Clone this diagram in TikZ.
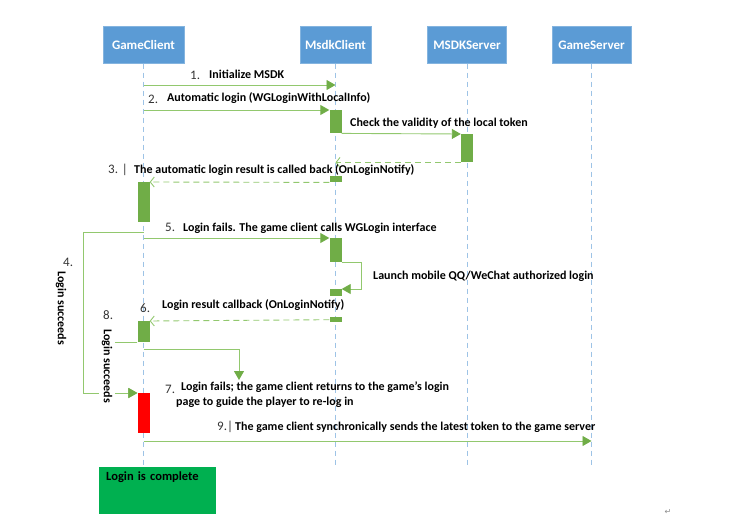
\documentclass[tikz,border=0pt]{standalone}
\usepackage{fontspec}
\setmainfont{Carlito}
\newfontfamily\symfont{DejaVu Sans}
\usetikzlibrary{arrows.meta,positioning}
\definecolor{hdrblue}{RGB}{91,155,213}
\definecolor{lifeblue}{RGB}{157,195,230}
\definecolor{bargreen}{RGB}{112,173,71}
\definecolor{linegreen}{RGB}{146,200,110}
\definecolor{donegreen}{RGB}{0,176,80}
\tikzset
{
    actor/.style    = {rectangle, fill=hdrblue, draw=hdrblue!75!white, text=white, font=\bfseries\fontsize{13}{15}\selectfont, minimum height=37pt, inner sep=2pt},
    lifeline/.style = {draw=lifeblue, dash pattern=on 5pt off 4pt, line width=0.8pt},
    actbar/.style   = {rectangle, fill=bargreen, minimum width=12pt, inner sep=0pt, anchor=north},
    msg/.style      = {draw=linegreen, line width=0.9pt, -{Triangle[length=9pt,width=10pt,color=bargreen]}},
    reply/.style    = {draw=linegreen, line width=0.9pt, dash pattern=on 6pt off 4pt, -{Straight Barb[length=4pt,width=10pt]}},
    msgtext/.style  = {anchor=west, inner sep=0pt, font=\bfseries\fontsize{12}{14.5}\selectfont},
    stepnum/.style  = {anchor=west, inner sep=0pt, text=black!80, font=\fontsize{13}{15}\selectfont},
    sidetext/.style = {rotate=-90, fill=white, inner xsep=1pt, inner ysep=3pt, font=\bfseries\fontsize{12}{14}\selectfont},
    donebox/.style  = {anchor=north west, fill=donegreen, text width=103pt, align=left, inner xsep=7pt, inner ysep=4pt, text height=9pt, text depth=30pt, font=\bfseries\fontsize{12.5}{14}\selectfont}
}

\begin{document}
\begin{tikzpicture}[x=1pt, y=-1pt]
    \useasboundingbox (0,0) rectangle (749,527);
    \node [actor, minimum width=81pt] (gc) at (143.5,45) {GameClient};
    \node [actor, minimum width=71pt] (mc) at (335.5,45) {MsdkClient};
    \node [actor, minimum width=79pt] (ms) at (467,45) {MSDKServer};
    \node [actor, minimum width=79pt] (gs) at (591.5,45) {GameServer};
    \coordinate (bottom) at (0,468);
    \draw [lifeline] (gc.south) -- (gc |- bottom);
    \draw [lifeline] (mc.south) -- (mc |- bottom);
    \draw [lifeline] (ms.south) -- (ms |- bottom);
    \draw [lifeline] (gs.south) -- (gs |- bottom);

    \node [actbar, minimum height=23pt] (b1) at (mc |- 0,110) {};
    \node [actbar, minimum height=28pt] (b2) at (ms |- 0,134) {};
    \node [actbar, minimum height=6pt] (b3) at (mc |- 0,176) {};
    \node [actbar, minimum height=40pt] (b4) at (gc |- 0,182) {};
    \node [actbar, minimum height=24pt] (b5) at (mc |- 0,238) {};
    \node [actbar, minimum height=7pt] (b6) at (mc |- 0,289) {};
    \node [actbar, minimum height=5pt] (b7) at (mc |- 0,317) {};
    \node [actbar, minimum height=21pt] (b8) at (gc |- 0,321) {};
    \node [actbar, minimum height=40pt, fill=red] (b9) at (gc |- 0,393) {};
    \coordinate (c7) at (239,380);

    \draw [msg] (gc |- 0,85) -- (mc |- 0,85);
    \draw [msg] (gc |- b1.north) -- (b1.north west);
    \draw [msg] (b1.south east) -- (b2.north west);
    \draw [reply] (b2.south west) -- (mc |- b2.south);
    \draw [reply] (b3.south west) -- (b4.north east);
    \draw [msg] (gc |- b5.north) -- (b5.north west);
    \draw [msg] (b5.south east) -- ++(20,0) |- (b6.north east);
    \draw [reply] (b7.west) -- (b8.north east);
    \draw [msg] (gc |- 0,232) -- ++(-60,0) |- (b9.north west);
    \draw [msg] (b8.south west) -- ++(-30,0) |- (b9.north west);
    \draw [msg] (gc |- 0,349) -| (c7);
    \draw [msg] (gc |- 0,441) -- (gs |- 0,441);

    \node [stepnum] (n1) at (190,75) {1.};
    \node [msgtext] (t1) at (209,74) {Initialize MSDK};
    \node [stepnum] (n2) at (148,99) {2.};
    \node [msgtext] (t2) at (167,98) {Automatic login (WGLoginWithLocalInfo)};
    \node [msgtext] (tc) at (350,123) {Check the validity of the local token};
    \node [stepnum] (n3) at (108,170) {3. |};
    \node [msgtext] (t3) at (134,170) {The automatic login result is called back (OnLoginNotify)};
    \node [stepnum] (n4) at (63,262) {4.};
    \node [sidetext] (s4) at (61,308) {Login succeeds};
    \node [stepnum] (n5) at (165,227) {5.};
    \node [msgtext] (t5) at (183,228) {Login fails. The game client calls WGLogin interface};
    \node [msgtext] (tq) at (373,276) {Launch mobile QQ/WeChat authorized login};
    \node [stepnum] (n6) at (140,308) {6.};
    \node [msgtext] (t6) at (162,305) {Login result callback (OnLoginNotify)};
    \node [stepnum] (n8) at (103,315) {8.};
    \node [sidetext] (s8) at (107,366) {Login succeeds};
    \node [stepnum] (n7) at (165,389) {7.};
    \node [msgtext, anchor=north west, align=left] (t7) at (176,382) {\hspace{5pt}Login fails; the game client returns to the game’s login\\page to guide the player to re-log in};
    \node [stepnum] (n9) at (217,427) {9.|};
    \node [msgtext] (t9) at (235,427) {The game client synchronically sends the latest token to the game server};
    \node [donebox] (done) at (99,467) {Login is complete};
    \node [text=black!45, font=\symfont\fontsize{8}{9}\selectfont] (mark) at (668,512) {↵};
\end{tikzpicture}
\end{document}
